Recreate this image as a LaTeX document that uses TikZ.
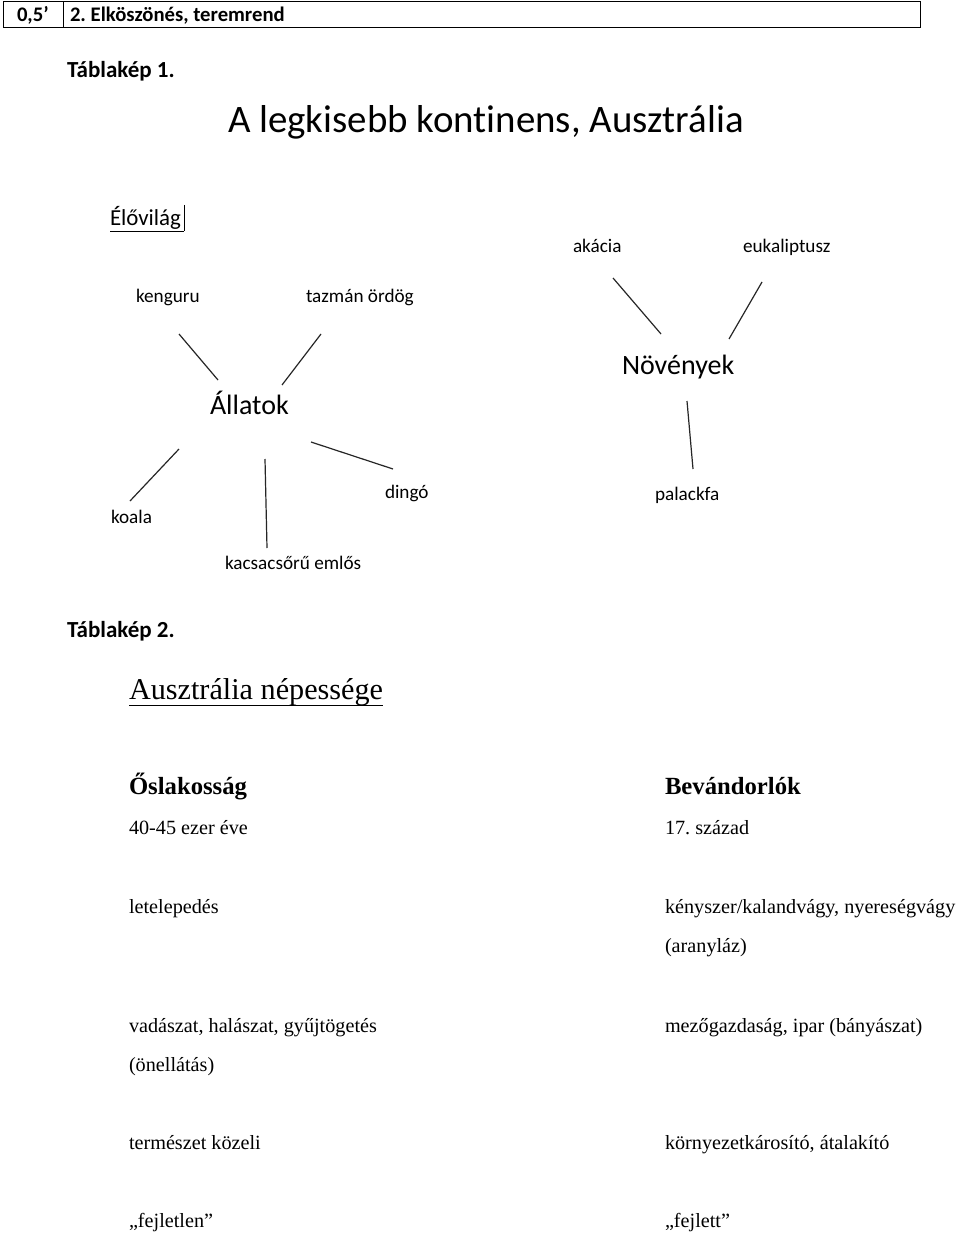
\documentclass[tikz,border=0pt]{standalone}
\usepackage{fontspec}
\setmainfont{Liberation Serif}
\newfontfamily\calfont[Ligatures=NoCommon]{Carlito}
\frenchspacing
\tikzset{
  lbl/.style={anchor=base west, inner sep=0pt, outer sep=0pt},
  cs/.style={lbl, font=\calfont\fontsize{19.2}{22}\selectfont},
  cb/.style={lbl, font=\calfont\bfseries\fontsize{20.7}{24}\selectfont},
  ct/.style={lbl, font=\calfont\bfseries\fontsize{23}{26}\selectfont},
  cbig/.style={lbl, font=\calfont\fontsize{28}{32}\selectfont},
  tm/.style={lbl, font=\fontsize{20.2}{24}\selectfont},
  tb/.style={lbl, font=\bfseries\fontsize{24.7}{28}\selectfont},
  spoke/.style={line width=1.2pt, draw=black!85},
}
\begin{document}
\begin{tikzpicture}[x=1pt,y=-1pt]
\useasboundingbox (0,0) rectangle (960,1233);
\fill[white] (0,0) rectangle (960,1233);
% header table
\draw[line width=1pt] (3,2) rectangle (920,28);
\draw[line width=1pt] (63,2) -- (63,28);
\node[cb] (h1) at (17,22) {0,5’};
\node[cb] (h2) at (70,22) {2. Elköszönés, teremrend};
\node[ct] (t1) at (67,78) {Táblakép 1.};
% diagram 1
\node[lbl, font=\calfont\fontsize{38.9}{44}\selectfont] (title) at (228,133) {A legkisebb kontinens, Ausztrália};
\node[lbl, font=\calfont\fontsize{22.9}{26}\selectfont] (elo) at (110,226) {Élővilág};
\draw[line width=0.8pt] (elo.west |- 0,231) -- (184,231);
\draw[line width=0.8pt] (184,205) -- (184,231);
\node[cbig] (all) at (210,414) {Állatok};
\node[cbig] (nov) at (622,374) {Növények};
\node[cs] (keng) at (136,302) {kenguru};
\node[cs] (taz) at (306,302) {tazmán ördög};
\node[cs] (koala) at (111,523) {koala};
\node[cs] (kacsa) at (225,569) {kacsacsőrű emlős};
\node[cs] (dingo) at (385,498) {dingó};
\node[cs] (akac) at (573,252) {akácia};
\node[cs] (euk) at (743,252) {eukaliptusz};
\node[cs] (pal) at (655,500) {palackfa};
% spoke end points
\coordinate (kengA) at (179,334); \coordinate (kengB) at (218,380);
\coordinate (tazA) at (321,334);  \coordinate (tazB) at (282,385);
\coordinate (koaA) at (179,449);  \coordinate (koaB) at (130,501);
\coordinate (kacA) at (265,459);  \coordinate (kacB) at (267,548);
\coordinate (dinA) at (311,442);  \coordinate (dinB) at (393,469);
\coordinate (akaA) at (613,278);  \coordinate (akaB) at (661,334);
\coordinate (eukA) at (762,282);  \coordinate (eukB) at (729,339);
\coordinate (palA) at (687,401);  \coordinate (palB) at (693,469);
\draw[spoke] (kengA) -- (kengB);
\draw[spoke] (tazA) -- (tazB);
\draw[spoke] (koaA) -- (koaB);
\draw[spoke] (kacA) -- (kacB);
\draw[spoke] (dinA) -- (dinB);
\draw[spoke] (akaA) -- (akaB);
\draw[spoke] (eukA) -- (eukB);
\draw[spoke] (palA) -- (palB);
% diagram 2
\node[ct] (t2) at (67,637) {Táblakép 2.};
\node[lbl, font=\fontsize{30.2}{34}\selectfont] (nep) at (129,699) {Ausztrália népessége};
\draw[line width=0.9pt] (129,705) -- (nep.east |- 0,705);
\node[tb] (osl) at (129,794) {Őslakosság};
\node[tb] (bev) at (665,794) {Bevándorlók};
\node[tm] (l1) at (129,834) {40-45 ezer éve};
\node[tm] (r1) at (665,834) {17. század};
\node[tm] (l2) at (129,913) {letelepedés};
\node[tm] (r2) at (665,913) {kényszer/kalandvágy, nyereségvágy};
\node[tm] (r2b) at (665,952) {(aranyláz)};
\node[tm] (l3) at (129,1032) {vadászat, halászat, gyűjtögetés};
\node[tm] (l3b) at (129,1071) {(önellátás)};
\node[tm] (r3) at (665,1032) {mezőgazdaság, ipar (bányászat)};
\node[tm] (l4) at (129,1149) {természet közeli};
\node[tm] (r4) at (665,1149) {környezetkárosító, átalakító};
\node[tm] (l5) at (129,1227) {„fejletlen”};
\node[tm] (r5) at (665,1227) {„fejlett”};
\end{tikzpicture}
\end{document}
